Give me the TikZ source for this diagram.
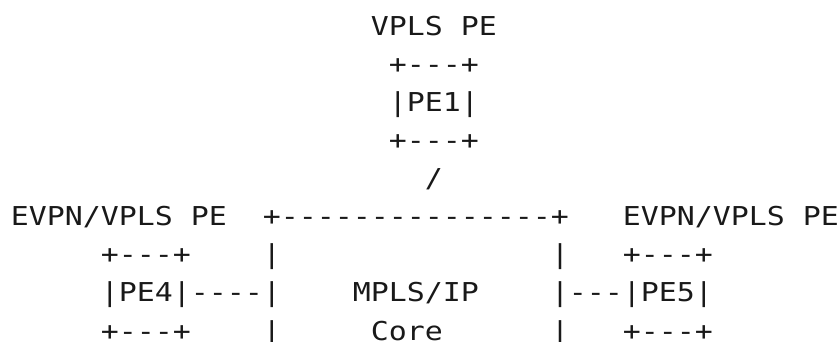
\documentclass[tikz,border=0pt]{standalone}
\usepackage{fontspec}
\setmonofont[FakeStretch=1.15]{DejaVu Sans Mono}
\usetikzlibrary{positioning}

\begin{document}
\begin{tikzpicture}[
  x=18pt, y=-38.14pt,
  ascii/.style={anchor=base west, inner sep=0pt, outer sep=0pt,
                font=\ttfamily\fontsize{26}{26}\selectfont, text=black!90},
]
\useasboundingbox (-0.611,-0.918) rectangle (46.056,8.023);

%% VPLS PE on top
\node[ascii] (vplslbl) at (20,0) {VPLS PE};
\node[ascii] (peonetop) at (21,1) {+---+};
\node[ascii] (peone) at (21,2) {|PE1|};
\node[ascii] (peonebot) at (21,3) {+---+};
\node[ascii] (slash) at (23,4) {/};

%% Labels and core top
\node[ascii] (evpnlblw) at (0,5) {EVPN/VPLS PE};
\node[ascii] (coretop) at (14,5) {+---------------+};
\node[ascii] (evpnlble) at (34,5) {EVPN/VPLS PE};

%% PE4, core, PE5
\node[ascii] (pefourtop) at (5,6) {+---+};
\node[ascii] (corewa) at (14,6) {|};
\node[ascii] (coreea) at (30,6) {|};
\node[ascii] (pefivetop) at (34,6) {+---+};

\node[ascii] (pefour) at (5,7) {|PE4|----|};
\node[ascii] (corelbl) at (19,7) {MPLS/IP};
\node[ascii] (pefive) at (30,7) {|---|PE5|};

\node[ascii] (pefourbot) at (5,8) {+---+};
\node[ascii] (corewb) at (14,8) {|};
\node[ascii] (corename) at (20,8) {Core};
\node[ascii] (coreeb) at (30,8) {|};
\node[ascii] (pefivebot) at (34,8) {+---+};

\end{tikzpicture}
\end{document}
